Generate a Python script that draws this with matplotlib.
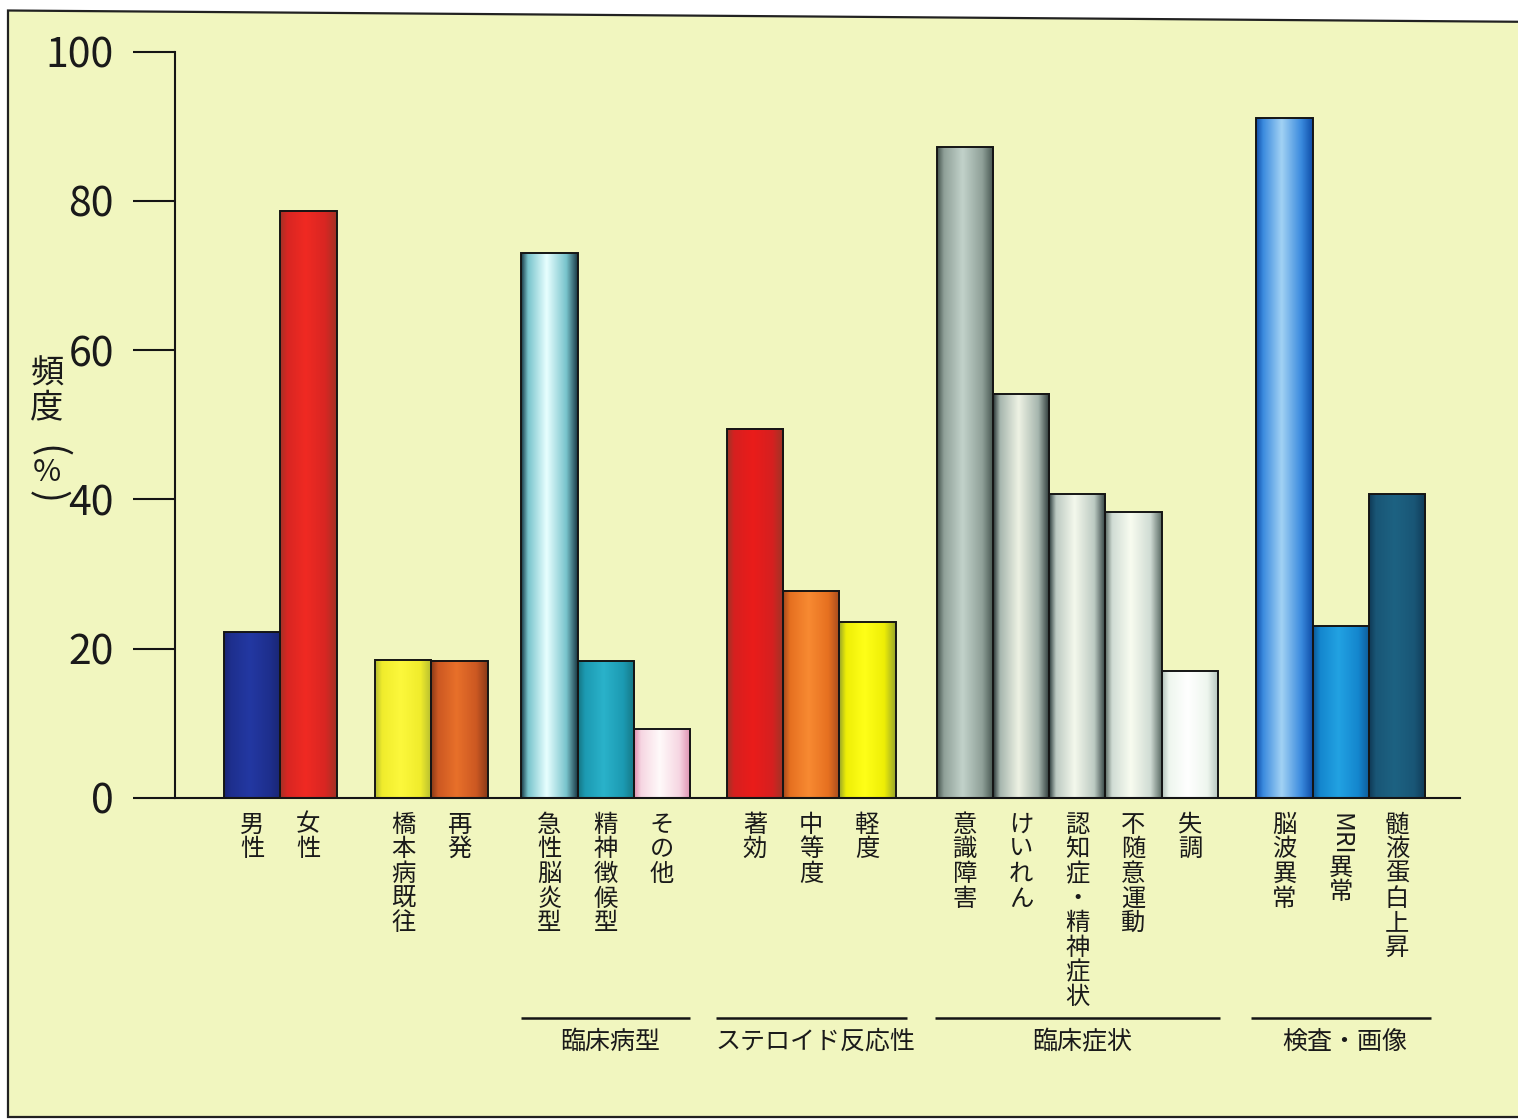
import matplotlib.pyplot as plt
import numpy as np
from matplotlib import transforms
from matplotlib.colors import to_rgb
from matplotlib.patches import Polygon

plt.rcParams['font.family'] = ['Noto Sans CJK JP', 'DejaVu Sans']

# frequency (%) of each finding
labels = ['男性', '女性',
          '橋本病既往', '再発',
          '急性脳炎型', '精神徴候型', 'その他',
          '著効', '中等度', '軽度',
          '意識障害', 'けいれん', '認知症・精神症状', '不随意運動', '失調',
          '脳波異常', 'MRI異常', '髄液蛋白上昇']
values = [22.2, 78.7,
          18.5, 18.4,
          73.0, 18.3, 9.2,
          49.5, 27.8, 23.6,
          87.2, 54.2, 40.7, 38.3, 17.0,
          91.1, 23.0, 40.7]
group_sizes = [2, 2, 3, 3, 5, 3]
group_names = ['', '', '臨床病型', 'ステロイド反応性', '臨床症状', '検査・画像']
yticks = [0, 20, 40, 60, 80, 100]

# (shadow, body, highlight) for the cylinder shading of each bar
shades = [
    ('#1a2674', '#1e2f8e', '#2338a2'),
    ('#a23226', '#d82622', '#f02a22'),
    ('#b4bc30', '#f0ec2c', '#fcf83c'),
    ('#8a3a18', '#cc5822', '#e8702a'),
    ('#1a3a46', '#78c4cc', '#e8ffff'),
    ('#157684', '#1c9ab2', '#2ab2ca'),
    ('#de90b0', '#f6d6e2', '#fffafa'),
    ('#9c3626', '#d62020', '#ea1c1a'),
    ('#a64a1e', '#e67020', '#f88a32'),
    ('#98a62a', '#eeee06', '#ffff18'),
    ('#44544e', '#8fa098', '#c2d2ca'),
    ('#2a3636', '#a6b6ae', '#eef2e4'),
    ('#2e3e3e', '#bccac2', '#f4f8ec'),
    ('#5c6c66', '#d0dcd4', '#f8fcf0'),
    ('#b4c4bc', '#eef6ee', '#ffffff'),
    ('#0f4ea8', '#3a8ade', '#a2d2f4'),
    ('#0e5a98', '#1486ce', '#22a2e2'),
    ('#0f3a56', '#195676', '#1d6282'),
]

W, H = 1518, 1120
# spacing between neighbouring groups, in bar widths
gaps = [0.684, 0.601, 0.650, 0.729, 0.681]


def fy(py):
    return 1 - py / H


def shade_strip(shadow, body, light, n=80):
    stops = [0, 0.12, 0.45, 0.8, 1.0]
    cols = np.array([to_rgb(c) for c in (shadow, body, light, body, shadow)])
    t = np.linspace(0, 1, n)
    row = np.stack([np.interp(t, stops, cols[:, k]) for k in range(3)], axis=1)
    return np.stack([row, row])


# bar centres: one unit per bar, a gap between groups
xs = []
pos = 0.0
for gi, size in enumerate(group_sizes):
    for j in range(size):
        xs.append(pos)
        pos += 1
    if gi < len(gaps):
        pos += gaps[gi]
xs = np.array(xs)

fig = plt.figure(figsize=(W / 100, H / 100), dpi=100)
fig.patch.set_facecolor('white')

# pale yellow card with its black border
card = Polygon([(8 / W, fy(10.5)), (1.02, fy(22)), (1.02, fy(1117)), (8 / W, fy(1117))],
               closed=True, transform=fig.transFigure, facecolor='#f1f6bf',
               edgecolor='#222222', lw=1.6, zorder=-5)
fig.patches.append(card)

ax = fig.add_axes([175 / W, fy(798), (1460 - 175) / W, (798 - 51.7) / H])
ax.set_facecolor('none')

for x, v, (s, b, l) in zip(xs, values, shades):
    ax.imshow(shade_strip(s, b, l), extent=(x - 0.5, x + 0.5, 0, v),
              aspect='auto', interpolation='bilinear', zorder=2)
ax.bar(xs, values, width=1.0, fill=False, edgecolor='#151515', lw=1.4, zorder=3)

ax.set_xlim(-1.37, xs[-1] + 0.5 + 0.62)
ax.set_ylim(0, 100)

for side in ['top', 'right']:
    ax.spines[side].set_visible(False)
ax.spines['left'].set_linewidth(1.5)
ax.spines['bottom'].set_linewidth(1.5)
ax.spines['left'].set_color('#151515')
ax.spines['bottom'].set_color('#151515')

ax.set_xticks([])
ax.set_yticks(yticks)
ax.set_yticklabels([str(t) for t in yticks], fontsize=29.5, color='#1a1a1a')
ax.tick_params(axis='y', direction='out', length=30, width=1.5, pad=14, color='#151515')

# y-axis title, written top to bottom
fig.text(47 / W, fy(374), '頻', fontsize=24, ha='center', va='center', color='#1a1a1a')
fig.text(47 / W, fy(408), '度', fontsize=24, ha='center', va='center', color='#1a1a1a')
fig.text(47 / W, fy(452), '(', fontsize=28, ha='center', va='center', rotation=-90, color='#1a1a1a')
fig.text(47 / W, fy(473), '%', fontsize=22, ha='center', va='center', color='#1a1a1a')
fig.text(47 / W, fy(497), ')', fontsize=28, ha='center', va='center', rotation=-90, color='#1a1a1a')

# category labels, one character per line
tr = transforms.blended_transform_factory(ax.transData, fig.transFigure)
top, pitch = 813, 24.7
for x, lab in zip(xs, labels):
    k = 0.0
    head = ''
    while head != lab and lab[len(head)].isascii():
        head += lab[len(head)]
    if head:
        ax.text(x, fy(top), head, transform=tr, fontsize=17.5, rotation=-90,
                ha='center', va='top', color='#1a1a1a')
        k = 1.75
    for ch in lab[len(head):]:
        ax.text(x, fy(top + 11.5 + k * pitch), ch, transform=tr, fontsize=17.5,
                ha='center', va='center', color='#1a1a1a')
        k += 1

# group captions with rules above them
margins = [0, 0, 0.0, 0.2, 0.03, 0.1]
start = 0
for size, name, m in zip(group_sizes, group_names, margins):
    seg = xs[start:start + size]
    start += size
    if not name:
        continue
    x0, x1 = seg[0] - 0.5 - m, seg[-1] + 0.5 + m
    ax.plot([x0, x1], [fy(1018)] * 2, transform=tr, color='#151515', lw=1.8,
            clip_on=False, solid_capstyle='butt')
    ax.text((x0 + x1) / 2 + 0.08, fy(1042), name, transform=tr, fontsize=18,
            ha='center', va='center', color='#1a1a1a')

fig.savefig('out.png', dpi=100, facecolor=fig.get_facecolor())
